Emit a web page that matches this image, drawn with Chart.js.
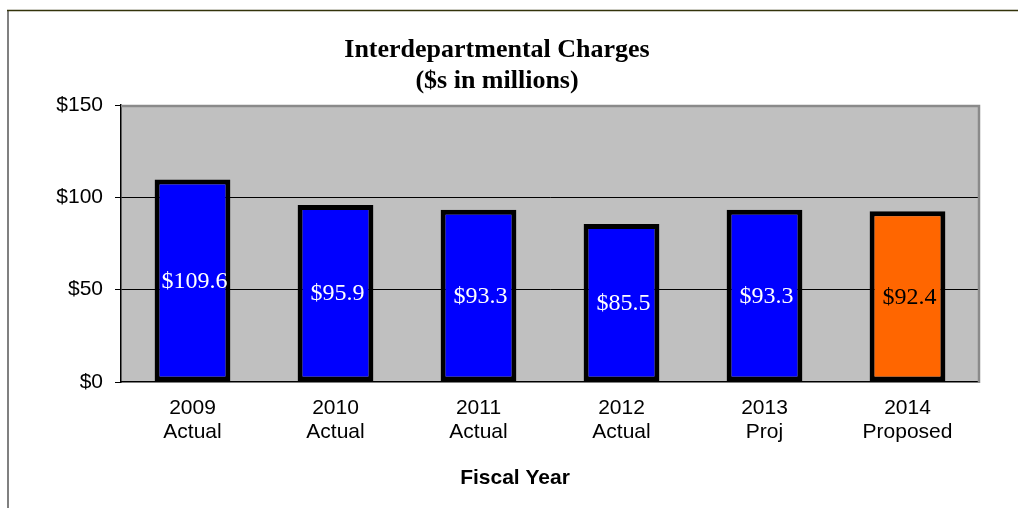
<!DOCTYPE html>
<html>
<head>
<meta charset="utf-8">
<script src="https://cdn.jsdelivr.net/npm/chart.js@4.4.1/dist/chart.umd.min.js"></script>
<style>
  html, body { margin: 0; padding: 0; background: #ffffff; }
  #wrap { width: 1018px; height: 508px; position: relative; }
</style>
</head>
<body>
<div id="wrap"><canvas id="chart" width="1018" height="508"></canvas></div>
<script>
// Fiscal years (two-line category labels)
const categories = [
  ['2009', 'Actual'],
  ['2010', 'Actual'],
  ['2011', 'Actual'],
  ['2012', 'Actual'],
  ['2013', 'Proj'],
  ['2014', 'Proposed']
];
// Interdepartmental charges, $ millions
const charges = [109.6, 95.9, 93.3, 85.5, 93.3, 92.4];
// Bar fills: actuals/projection in blue, proposed in orange
const barColors = ['#0000FF', '#0000FF', '#0000FF', '#0000FF', '#0000FF', '#FF6600'];
const valueLabelColors = ['#FFFFFF', '#FFFFFF', '#FFFFFF', '#FFFFFF', '#FFFFFF', '#000000'];
// Value axis ticks
const yTicks = [0, 50, 100, 150];

const SANS = '"Liberation Sans", Arial, sans-serif';
const SERIF = '"Liberation Serif", "Times New Roman", serif';

// Gray plot background plus frame around the whole chart
const frame = {
  id: 'frame',
  beforeDraw(chart) {
    const { ctx, chartArea: a } = chart;
    ctx.save();
    ctx.fillStyle = '#C0C0C0';
    ctx.fillRect(a.left, a.top, a.right - a.left, a.bottom - a.top);
    // outer chart border
    ctx.strokeStyle = '#808080';
    ctx.lineWidth = 2;
    ctx.beginPath();
    ctx.moveTo(8, 508);
    ctx.lineTo(8, 10);
    ctx.stroke();
    ctx.strokeStyle = '#33330a';
    ctx.lineWidth = 1.5;
    ctx.beginPath();
    ctx.moveTo(7, 10.5);
    ctx.lineTo(1018, 10.5);
    ctx.stroke();
    ctx.restore();
  },
  afterDraw(chart) {
    const { ctx, chartArea: a } = chart;
    ctx.save();
    // plot-area top and right edges
    ctx.strokeStyle = '#8a8a8a';
    ctx.lineWidth = 2.5;
    ctx.beginPath();
    ctx.moveTo(a.left, a.top + 1);
    ctx.lineTo(a.right, a.top + 1);
    ctx.lineTo(a.right, a.bottom + 1);
    ctx.stroke();
    // titles
    ctx.fillStyle = '#000';
    ctx.textAlign = 'center';
    ctx.textBaseline = 'middle';
    ctx.font = 'bold 26px ' + SERIF;
    ctx.fillText('Interdepartmental Charges', 497, 50);
    ctx.fillText('($s in millions)', 497, 81);
    ctx.font = 'bold 21px ' + SANS;
    ctx.fillText('Fiscal Year', 515, 478);
    ctx.restore();
  }
};

// Value printed in the middle of each bar
const barValues = {
  id: 'barValues',
  afterDatasetsDraw(chart) {
    const { ctx } = chart;
    const meta = chart.getDatasetMeta(0);
    ctx.save();
    ctx.font = '24px ' + SERIF;
    ctx.textAlign = 'center';
    ctx.textBaseline = 'middle';
    meta.data.forEach((bar, i) => {
      const v = charges[i];
      ctx.fillStyle = valueLabelColors[i];
      ctx.fillText('$' + v.toFixed(1), bar.x + 2, (bar.y + bar.base) / 2 + 1);
    });
    ctx.restore();
  }
};

new Chart(document.getElementById('chart'), {
  type: 'bar',
  data: {
    labels: categories,
    datasets: [{
      data: charges,
      backgroundColor: barColors,
      borderColor: '#000000',
      borderWidth: 5,
      borderSkipped: false,
      barPercentage: 0.53,
      categoryPercentage: 1.0
    }]
  },
  options: {
    responsive: false,
    animation: false,
    events: [],
    layout: { padding: { left: 0, right: 39, top: 105, bottom: 0 } },
    plugins: {
      legend: { display: false },
      title: { display: false },
      tooltip: { enabled: false }
    },
    scales: {
      x: {
        grid: { display: false, drawTicks: false },
        border: { display: true, color: '#000000', width: 1.5 },
        ticks: {
          color: '#000000',
          font: { family: SANS, size: 21, lineHeight: 1.15 },
          padding: 14,
          maxRotation: 0,
          autoSkip: false
        },
        afterFit(scale) { scale.height = 126; }
      },
      y: {
        min: 0,
        max: 150,
        afterBuildTicks(scale) { scale.ticks = yTicks.map(v => ({ value: v })); },
        grid: {
          color: ctx => (ctx.tick && (ctx.tick.value === 50 || ctx.tick.value === 100)) ? '#000000' : 'rgba(0,0,0,0)',
          lineWidth: 1,
          tickColor: '#000000',
          tickLength: 6
        },
        border: { display: true, color: '#000000', width: 1.5 },
        ticks: {
          color: '#000000',
          font: { family: SANS, size: 21 },
          padding: 12,
          callback: v => '$' + v
        },
        afterFit(scale) { scale.width = 121; }
      }
    }
  },
  plugins: [frame, barValues]
});
</script>
</body>
</html>
